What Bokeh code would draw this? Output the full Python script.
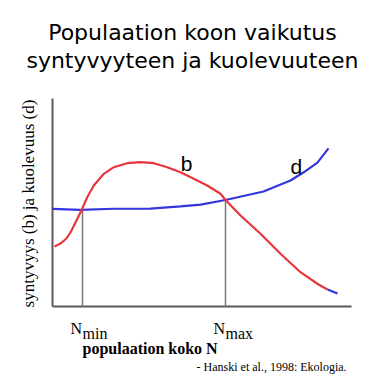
import math
from bokeh.plotting import figure
from bokeh.models import Range1d
from bokeh.core.properties import value
from bokeh.embed import file_html
from bokeh.resources import INLINE

# ---- data (population size N in % of axis, rates in % of axis) ----
birth_N = [0.67, 2.68, 4.68, 6.02, 8.36, 9.93, 11.61, 13.81, 17.16, 20.50, 24.98, 29.43, 33.88, 38.36,
           42.81, 47.26, 51.74, 56.19, 57.86, 62.88, 69.57, 76.25, 82.94, 88.96, 91.97]
birth_rate = [28.85, 30.29, 32.7, 35.58, 42.31, 46.97, 52.55, 58.17, 63.80, 66.97, 68.89, 69.38, 68.89, 66.97,
              64.57, 61.39, 58.17, 54.18, 51.2, 43.75, 34.95, 25.34, 16.49, 10.58, 8.17]
birth_tail_N = [91.97, 95.32]
birth_tail_rate = [8.17, 6.25]

death_N = [0.0, 9.36, 20.4, 32.8, 42.8, 49.5, 57.86, 70.57, 79.6, 83.9, 88.6, 92.3]
death_rate = [46.9, 46.5, 47.0, 47.1, 48.1, 49.0, 51.2, 55.3, 60.6, 64.4, 69.2, 76.0]

equilibrium_N = [10.03, 57.86]          # N_min, N_max
equilibrium_rate = [46.9, 51.2]
tick_names = ["min", "max"]

axis_max = 100.0

p = figure(width=384, height=384, output_backend="svg", toolbar_location=None,
           x_axis_type=None, y_axis_type=None, min_border=0,
           x_range=Range1d(-17.391, 111.037), y_range=Range1d(-37.5, 147.115))
p.outline_line_color = None
p.grid.visible = False
p.background_fill_color = "white"

# axes lines
p.segment(x0=[0, 0], y0=[0, 0], x1=[0, axis_max], y1=[axis_max, 0],
          line_color="#5a5a5a", line_width=2)

# equilibrium drop lines
p.segment(x0=equilibrium_N, y0=[0, 0], x1=equilibrium_N, y1=equilibrium_rate,
          line_color="#777777", line_width=1.5)

# curves
p.line(death_N, death_rate, line_color="#3535e0", line_width=2.2)
p.line(birth_N, birth_rate, line_color="#e8363a", line_width=2.2, line_join="round")
p.line(birth_tail_N, birth_tail_rate, line_color="#3535e0", line_width=2.2)

# curve labels
p.text(x=[42.9, 79.6], y=[68.9, 67.4], text=["b", "d"], text_font=value("Liberation Sans"),
       text_font_size="21px", text_color="black", text_baseline="alphabetic")

# x tick labels N_min, N_max
p.text(x=[n - 4.0 for n in equilibrium_N], y=[-10.6, -10.6], text=["N", "N"],
       text_font=value("Liberation Serif"), text_font_size="16px", text_baseline="alphabetic")
p.text(x=equilibrium_N, y=[-13.0, -13.0], text=tick_names,
       text_font=value("Liberation Serif"), text_font_size="16px", text_baseline="alphabetic")

# x axis label
p.text(x=[10.03], y=[-20.2], text=["populaation koko N"], text_font=value("Liberation Serif"),
       text_font_size="16px", text_font_style="bold", text_baseline="alphabetic")

# source
p.text(x=[48.2], y=[-29.3], text=["- Hanski et al., 1998: Ekologia."], text_font=value("Liberation Serif"),
       text_font_size="12px", text_baseline="alphabetic")

# y axis label
p.text(x=[-8.03], y=[49.5], text=["syntyvyys (b) ja kuolevuus (d)"], angle=math.pi / 2,
       text_font=value("Liberation Serif"), text_font_size="17px",
       text_align="center", text_baseline="middle")

# title
p.text(x=[46.8, 46.8], y=[131.7, 118.3],
       text=["Populaation koon vaikutus", "syntyvyyteen ja kuolevuuteen"],
       text_font=value("DejaVu Sans"), text_font_size="22px",
       text_align="center", text_baseline="alphabetic")

open("out.html", "w").write(file_html(p, INLINE))
